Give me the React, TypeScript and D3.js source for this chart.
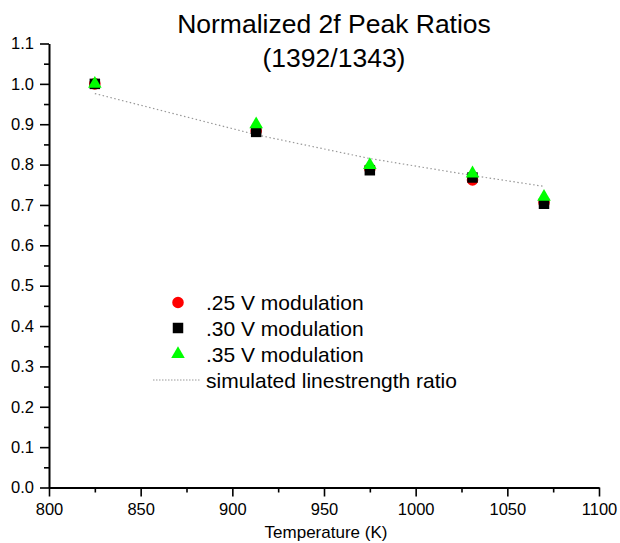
import React, { useEffect, useRef } from 'react';
import * as d3 from 'd3';

// temperatures (K) of the measured points
const temps = [825, 913, 975, 1031, 1070];
// normalized peak ratios per modulation depth
const mod25 = [1.0, 0.883, 0.79, 0.762, 0.706];
const mod30 = [1.0, 0.881, 0.786, 0.768, 0.703];
const mod35 = [1.0, 0.9, 0.799, 0.778, 0.72];
// simulated linestrength ratio
const simulated = [0.976, 0.874, 0.815, 0.773, 0.746];

const xMajorTicks = [800, 850, 900, 950, 1000, 1050, 1100];
const xMinorTicks = [825, 875, 925, 975, 1025, 1075];
const yMajorTicks = [0, 0.1, 0.2, 0.3, 0.4, 0.5, 0.6, 0.7, 0.8, 0.9, 1.0, 1.1];
const yMinorTicks = [0.05, 0.15, 0.25, 0.35, 0.45, 0.55, 0.65, 0.75, 0.85, 0.95, 1.05];

const legendLabels = ['.25 V modulation', '.30 V modulation', '.35 V modulation', 'simulated linestrength ratio'];

const App = () => {
  const svgRef = useRef(null);

  useEffect(() => {
    const width = 620;
    const height = 543;
    const margin = { top: 43.5, right: 21, bottom: 55.5, left: 49 };
    const font = 'Arial, "Liberation Sans", sans-serif';

    const svg = d3.select(svgRef.current);
    svg.selectAll('*').remove();
    svg.attr('width', width).attr('height', height);

    svg.append('rect').attr('width', width).attr('height', height).attr('fill', 'white');

    const x = d3.scaleLinear()
      .domain([800, 1100])
      .range([margin.left, width - margin.right]);

    const y = d3.scaleLinear()
      .domain([0, 1.1])
      .range([height - margin.bottom, margin.top]);

    // Title
    svg.append('text')
      .attr('x', 334)
      .attr('y', 33)
      .attr('text-anchor', 'middle')
      .style('font-family', font)
      .style('font-size', '26.5px')
      .text('Normalized 2f Peak Ratios');

    svg.append('text')
      .attr('x', 334)
      .attr('y', 67)
      .attr('text-anchor', 'middle')
      .style('font-family', font)
      .style('font-size', '26.5px')
      .text('(1392/1343)');

    // X axis: minor then major ticks
    const xg = svg.append('g').attr('transform', `translate(0,${height - margin.bottom})`);
    xg.append('g')
      .call(d3.axisBottom(x).tickValues(xMinorTicks).tickSize(5).tickFormat(() => ''))
      .call(g => g.select('.domain').remove());
    xg.append('g')
      .call(d3.axisBottom(x).tickValues(xMajorTicks).tickSize(9).tickSizeOuter(0).tickPadding(7).tickFormat(d3.format('d')))
      .call(g => g.selectAll('text').style('font-family', font).style('font-size', '16.5px').attr('fill', 'black'));
    xg.selectAll('.tick line').attr('stroke', 'black').attr('stroke-width', 1.6);
    xg.select('.domain').attr('stroke', 'black').attr('stroke-width', 2);

    // Y axis
    const yg = svg.append('g').attr('transform', `translate(${margin.left},0)`);
    yg.append('g')
      .call(d3.axisLeft(y).tickValues(yMinorTicks).tickSize(5).tickFormat(() => ''))
      .call(g => g.select('.domain').remove());
    yg.append('g')
      .call(d3.axisLeft(y).tickValues(yMajorTicks).tickSize(9).tickSizeOuter(0).tickPadding(6).tickFormat(d3.format('.1f')))
      .call(g => g.selectAll('text').style('font-family', font).style('font-size', '16.5px').attr('fill', 'black'));
    yg.selectAll('.tick line').attr('stroke', 'black').attr('stroke-width', 1.6);
    yg.select('.domain').attr('stroke', 'black').attr('stroke-width', 2);

    // X axis label
    svg.append('text')
      .attr('x', 326)
      .attr('y', 538)
      .attr('text-anchor', 'middle')
      .style('font-family', font)
      .style('font-size', '17px')
      .text('Temperature (K)');

    // Simulated line
    const line = d3.line()
      .x((d, i) => x(temps[i]))
      .y(d => y(d));

    svg.append('path')
      .datum(simulated)
      .attr('fill', 'none')
      .attr('stroke', '#999')
      .attr('stroke-width', 1.2)
      .attr('stroke-dasharray', '1.5 2.5')
      .attr('d', line);

    const circle = d3.symbol().type(d3.symbolCircle).size(105);
    const square = d3.symbol().type(d3.symbolSquare).size(110);
    const triangle = d3.symbol().type(d3.symbolTriangle).size(80);

    const series = [
      { values: mod25, symbol: circle, color: '#ff0000' },
      { values: mod30, symbol: square, color: '#000000' },
      { values: mod35, symbol: triangle, color: '#00ff00' },
    ];

    series.forEach(s => {
      svg.append('g')
        .selectAll('path')
        .data(s.values)
        .join('path')
        .attr('transform', (d, i) => `translate(${x(temps[i])},${y(d)})`)
        .attr('d', s.symbol())
        .attr('fill', s.color);
    });

    // Legend
    const legend = svg.append('g');
    const rowY = [302.5, 328, 354, 380];
    legendLabels.forEach((label, i) => {
      if (i < 3) {
        legend.append('path')
          .attr('transform', `translate(178,${rowY[i]})`)
          .attr('d', series[i].symbol())
          .attr('fill', series[i].color);
      } else {
        legend.append('line')
          .attr('x1', 153).attr('x2', 200)
          .attr('y1', rowY[i]).attr('y2', rowY[i])
          .attr('stroke', '#999')
          .attr('stroke-width', 1)
          .attr('stroke-dasharray', '1.5 1.5');
      }
      legend.append('text')
        .attr('x', 206)
        .attr('y', rowY[i])
        .attr('dy', '0.36em')
        .style('font-family', font)
        .style('font-size', '21px')
        .text(label);
    });
  });

  return (
    <svg ref={svgRef} style={{ position: 'absolute', left: 0, top: 0, display: 'block' }}></svg>
  );
};

export default App;
